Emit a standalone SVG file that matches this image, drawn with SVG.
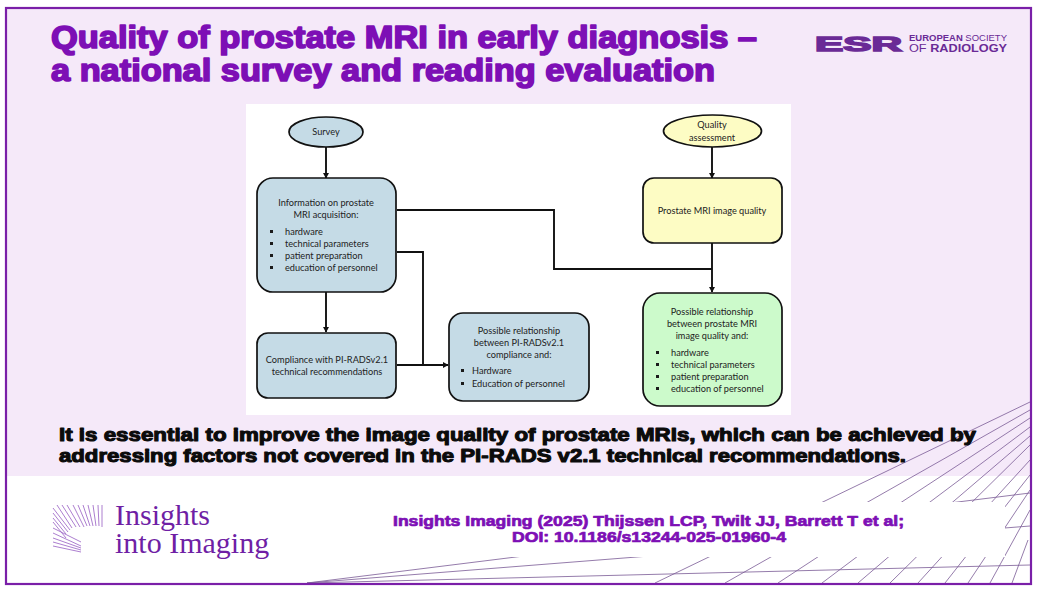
<svg xmlns="http://www.w3.org/2000/svg" width="1039" height="595" viewBox="0 0 1039 595">
<style>
.t{font-family:"Liberation Sans",Arial,sans-serif;font-weight:700;stroke-linejoin:round}
.pu{fill:#7d0fb5;stroke:#7d0fb5}
.ttl{font-size:32px;stroke-width:1.7px}
.blk{font-size:19px;fill:#0b0b0b;stroke:#0b0b0b;stroke-width:1.1px}
.cit{font-size:14.5px;stroke-width:.7px}
.n{font-family:Lato,"Open Sans",sans-serif;font-size:9.2px;fill:#222}
.m{text-anchor:middle}
.box{stroke:#111;stroke-width:1.7px}
.blue{fill:#c5dbe6}.yel{fill:#fdfcc4}.grn{fill:#ccfacb}
.c{fill:none;stroke:#111;stroke-width:1.9px}
.fan{stroke:#7a5a96;stroke-width:.8px;fill:none}
.bu{fill:#1a1a1a}
.logo{font-family:"Liberation Sans",sans-serif;fill:#6a2a96}
.ii{font-family:"Liberation Serif",serif;font-size:30px;fill:#6f1fa5}
</style>
<defs>
<marker id="a" markerWidth="7" markerHeight="7" refX="5" refY="3" orient="auto" markerUnits="userSpaceOnUse"><path d="M0 0L5.5 3L0 6z" fill="#111"/></marker>
</defs>
<rect width="1039" height="595" fill="#fff"/>
<rect id="panel" x="6" y="8" width="1025" height="468" fill="#f5e9f9"/>
<g id="fan" class="fan">
<path d="M1030 402L655 583M1030 410L725 583M1030 418L778 583M1030 427L822 583M1030 436L858 583M1030 445L890 583M1030 460L918 583M1030 475L945 583M1030 490L968 583M1030 510L990 583M1028 540L1012 583"/>
<path d="M307 583L1030 493M307 583L1030 526M307 583L1030 565"/>
</g>
<rect id="citebg" x="300" y="502" width="705" height="55" fill="#fff"/>
<rect id="frame" x="6" y="8" width="1025" height="576" fill="none" stroke="#7a1fa8" stroke-width="2.2"/>
<g id="title" class="t pu ttl">
<text x="51" y="48" textLength="706" lengthAdjust="spacingAndGlyphs">Quality of prostate MRI in early diagnosis –</text>
<text x="51" y="81" textLength="664" lengthAdjust="spacingAndGlyphs">a national survey and reading evaluation</text>
</g>
<g id="logo-esr" class="logo">
<text x="815" y="51" font-size="21" font-weight="700" stroke="#6a2a96" stroke-width="1.5" textLength="87" lengthAdjust="spacingAndGlyphs">ESR</text>
<text x="909" y="41" font-size="8.4" textLength="98" lengthAdjust="spacingAndGlyphs"><tspan font-weight="700">EUROPEAN</tspan> SOCIETY</text>
<text x="909" y="52" font-size="10" textLength="98" lengthAdjust="spacingAndGlyphs">OF <tspan font-weight="700">RADIOLOGY</tspan></text>
</g>
<rect id="chart" x="246" y="104" width="545" height="311" fill="#fff"/>
<g id="connectors">
<path class="c" marker-end="url(#a)" d="M326 147V178"/>
<path class="c" marker-end="url(#a)" d="M326 292V332"/>
<path class="c" d="M397 210H554V269H712"/>
<path class="c" d="M397 252H423V365"/>
<path class="c" marker-end="url(#a)" d="M397 365H448"/>
<path class="c" marker-end="url(#a)" d="M712 147V178"/>
<path class="c" marker-end="url(#a)" d="M712 243V292"/>
</g>
<g id="survey"><ellipse class="box blue" cx="326" cy="132" rx="37" ry="15"/><text class="n m" x="326" y="135">Survey</text></g>
<g id="info"><rect class="box blue" x="257" y="178" width="139" height="114" rx="16"/>
<text class="n m" x="326" y="206">Information on prostate</text><text class="n m" x="326" y="218">MRI acquisition:</text>
<rect class="bu" x="270" y="230" width="3" height="3"/><rect class="bu" x="270" y="242" width="3" height="3"/><rect class="bu" x="270" y="254" width="3" height="3"/><rect class="bu" x="270" y="266" width="3" height="3"/>
<text class="n" x="285" y="235">hardware</text><text class="n" x="285" y="247">technical parameters</text><text class="n" x="285" y="259">patient preparation</text><text class="n" x="285" y="271">education of personnel</text></g>
<g id="compliance"><rect class="box blue" x="257" y="333" width="139" height="65" rx="11"/>
<text class="n m" x="327" y="363">Compliance with PI-RADSv2.1</text><text class="n m" x="327" y="375">technical recommendations</text></g>
<g id="rel-left"><rect class="box blue" x="449" y="313" width="140" height="88" rx="14"/>
<text class="n m" x="519" y="334">Possible relationship</text><text class="n m" x="519" y="346">between PI-RADSv2.1</text><text class="n m" x="519" y="358">compliance and:</text>
<rect class="bu" x="461" y="369" width="3" height="3"/><rect class="bu" x="461" y="382" width="3" height="3"/>
<text class="n" x="472" y="374">Hardware</text><text class="n" x="472" y="387">Education of personnel</text></g>
<g id="quality"><ellipse class="box yel" cx="712.500" cy="131" rx="49" ry="16"/><text class="n m" x="712" y="128">Quality</text><text class="n m" x="712" y="141">assessment</text></g>
<g id="iq"><rect class="box yel" x="643" y="178" width="139" height="65" rx="11"/><text class="n m" x="712" y="214">Prostate MRI image quality</text></g>
<g id="rel-right"><rect class="box grn" x="643" y="293" width="139" height="113" rx="17"/>
<text class="n m" x="712" y="315">Possible relationship</text><text class="n m" x="712" y="327">between prostate MRI</text><text class="n m" x="712" y="339">image quality and:</text>
<rect class="bu" x="656" y="351" width="3" height="3"/><rect class="bu" x="656" y="363" width="3" height="3"/><rect class="bu" x="656" y="375" width="3" height="3"/><rect class="bu" x="656" y="387" width="3" height="3"/>
<text class="n" x="671" y="356">hardware</text><text class="n" x="671" y="368">technical parameters</text><text class="n" x="671" y="380">patient preparation</text><text class="n" x="671" y="392">education of personnel</text></g>
<g id="takeaway" class="t blk">
<text x="59" y="441" textLength="917" lengthAdjust="spacingAndGlyphs">It is essential to improve the image quality of prostate MRIs, which can be achieved by</text>
<text x="59" y="462" textLength="847" lengthAdjust="spacingAndGlyphs">addressing factors not covered in the PI-RADS v2.1 technical recommendations.</text>
</g>
<g id="citation" class="t pu cit">
<text x="393" y="526" textLength="511" lengthAdjust="spacingAndGlyphs">Insights Imaging (2025) Thijssen LCP, Twilt JJ, Barrett T et al;</text>
<text x="512" y="542" textLength="274" lengthAdjust="spacingAndGlyphs">DOI: 10.1186/s13244-025-01960-4</text>
</g>
<g id="logo-ii">
<g stroke="#a36fc9" stroke-width=".9" fill="none"><path d="M102 505V527M98 505L99 526M93 505L96 526M88 505L93 526M83 505L90 526M78 505L87 526M73 505L84 527M67 505L80 527M62 505L76 527M57 505L72 528M53 508L70 530M53 513L68 532M53 518L66 534M53 522L66 538M53 528L81 542M53 533L81 546M53 538L81 548M53 542L81 550M53 546L81 552"/></g>
<text class="ii"><tspan x="115" y="525">Insights</tspan><tspan x="115" y="553">into Imaging</tspan></text>
</g>
</svg>
